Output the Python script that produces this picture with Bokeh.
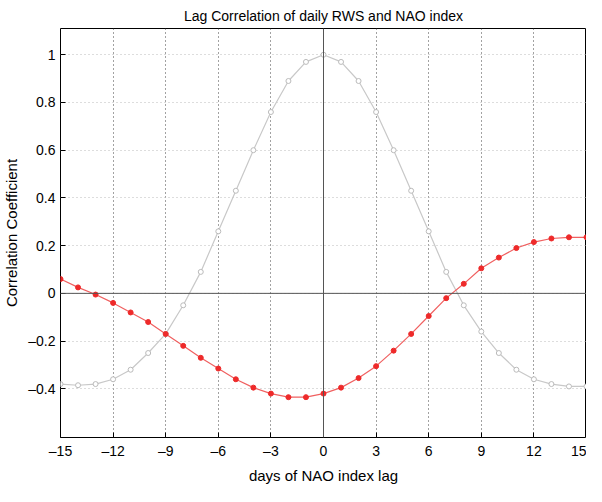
from bokeh.plotting import figure
from bokeh.models import Span, FixedTicker
from bokeh.embed import file_html
from bokeh.resources import INLINE

lags = list(range(-15, 16))
rws_auto = [-0.38, -0.385, -0.38, -0.36, -0.32, -0.25, -0.17, -0.05, 0.09, 0.26, 0.43, 0.60, 0.76, 0.89, 0.97, 1.0,
            0.97, 0.89, 0.76, 0.60, 0.43, 0.26, 0.09, -0.05, -0.16, -0.25, -0.32, -0.36, -0.38, -0.39, -0.39]
rws_nao = [0.06, 0.025, -0.005, -0.04, -0.08, -0.12, -0.17, -0.22, -0.27, -0.315, -0.36, -0.395, -0.42, -0.435, -0.435, -0.42,
           -0.395, -0.355, -0.305, -0.24, -0.17, -0.095, -0.02, 0.04, 0.105, 0.15, 0.19, 0.215, 0.23, 0.235, 0.235]
xticks = [-15, -12, -9, -6, -3, 0, 3, 6, 9, 12, 15]
yticks = [-0.4, -0.2, 0, 0.2, 0.4, 0.6, 0.8, 1.0]

p = figure(width=586, height=486, x_range=(-15, 15), y_range=(-0.604, 1.11),
           output_backend="svg", toolbar_location=None,
           title="Lag Correlation of daily RWS and NAO index",
           min_border_left=48, min_border_right=0, min_border_top=10, min_border_bottom=40)
p.title.align = "center"
p.title.text_font = "Liberation Sans"
p.title.text_font_size = "14px"
p.title.text_font_style = "normal"
p.title.text_color = "black"
p.outline_line_color = "black"
p.xaxis.ticker = FixedTicker(ticks=xticks)
p.yaxis.ticker = FixedTicker(ticks=yticks)
p.xaxis.major_label_overrides = {t: ("\u2013" + str(-t) if t < 0 else str(t)) for t in xticks}
p.yaxis.major_label_overrides = {t: ("\u2013" + f"{-t:g}" if t < 0 else f"{t:g}") for t in yticks}
for ax in (p.xaxis, p.yaxis):
    ax.major_tick_in = 5
    ax.major_tick_out = 0
    ax.minor_tick_line_color = None
    ax.axis_line_color = None
    ax.major_label_text_font = "Liberation Sans"
    ax.major_label_text_font_size = "14px"
    ax.major_label_text_color = "black"
    ax.axis_label_text_font = "Liberation Sans"
    ax.axis_label_text_font_size = "15px"
    ax.axis_label_text_font_style = "normal"
    ax.axis_label_text_color = "black"
p.xaxis.axis_label = "days of NAO index lag"
p.yaxis.axis_label = "Correlation Coefficient"
p.xgrid.grid_line_color = "#444444"
p.xgrid.grid_line_dash = "1 3"
p.ygrid.grid_line_color = "#bbbbbb"
p.ygrid.grid_line_dash = "1 3"
p.add_layout(Span(location=0, dimension="width", line_color="#555555", line_width=1))
p.add_layout(Span(location=0, dimension="height", line_color="#555555", line_width=1))

p.line(lags, rws_auto, line_color="#c8c8c8", line_width=1.2)
p.scatter(lags, rws_auto, size=5, fill_color="white", line_color="#bbbbbb")
p.line(lags, rws_nao, line_color="#f06060", line_width=1.2)
p.scatter(lags, rws_nao, size=5, fill_color="#ee2a2a", line_color="#ee2a2a")

open("out.html", "w").write(file_html(p, INLINE))
